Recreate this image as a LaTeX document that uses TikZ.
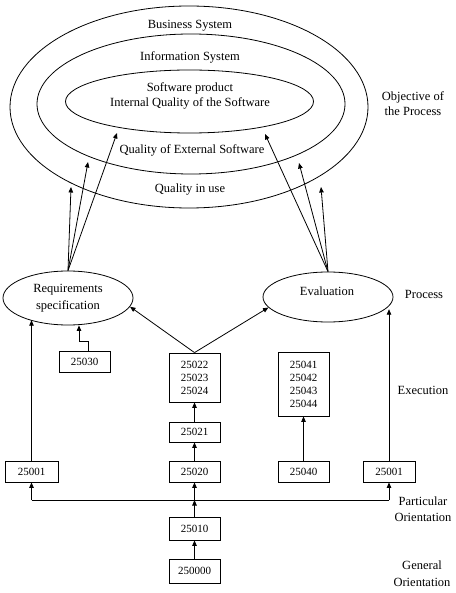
\documentclass[tikz,border=0pt]{standalone}
\usepackage{fontspec}
\setmainfont{Liberation Serif}
\usetikzlibrary{shapes.geometric,arrows.meta}
\newcommand\lblfont{\fontsize{12.5}{15}\selectfont}
\newcommand\numfont{\fontsize{11}{13}\selectfont}
\tikzset{
  box/.style={draw, line width=0.8pt, inner sep=0pt, minimum width=51pt, minimum height=21pt, align=center, font=\numfont},
  lbl/.style={align=center, font=\lblfont, inner sep=0pt},
  arr/.style={line width=0.8pt, -{Triangle[length=5.5pt,width=4.5pt]}},
  ell/.style={draw, ellipse, line width=0.8pt, inner sep=0pt, align=center, font=\lblfont},
  ring/.style={line width=0.8pt}
}
\begin{document}
\begin{tikzpicture}[x=1pt,y=-1pt]
\useasboundingbox (0,0) rectangle (455,593);
% rings
\draw[ring] (189,107) ellipse [x radius=179, y radius=101];
\draw[ring] (191,104) ellipse [x radius=154, y radius=70];
\draw[ring] (189.5,101.5) ellipse [x radius=124, y radius=31.5];
\node[lbl] (bs) at (190,26) {Business System};
\node[lbl] (is) at (190,57) {Information System};
\node[lbl] (sp) at (190,96) {Software product\\Internal Quality of the Software};
\node[lbl] (qe) at (192,150) {Quality of External Software};
\node[lbl] (qu) at (190,190) {Quality in use};
% side labels
\node[lbl] (obj) at (413,104) {Objective of\\the Process};
\node[lbl] (proc) at (424,294) {Process};
\node[lbl] (exe) at (423,390) {Execution};
\node[lbl, font=\fontsize{12.5}{16}\selectfont] (po) at (423,509) {Particular\\Orientation};
\node[lbl, font=\fontsize{12.5}{17}\selectfont] (go) at (422,574) {General\\Orientation};
% process ellipses
\node[ell, minimum width=130pt, minimum height=54pt, font=\fontsize{12.5}{17}\selectfont] (req) at (68,298) {Requirements\\specification};
\node[ell, minimum width=130pt, minimum height=50pt] (ev) at (328,297) {};
\node[lbl] (evt) at (327,291) {Evaluation};
% boxes
\node[box] (c30) at (84.5,362) {25030};
\node[box, minimum height=49pt] (c22) at (194.5,377.5) {25022\\25023\\25024};
\node[box, minimum height=64pt] (c41) at (303.5,384) {25041\\25042\\25043\\25044};
\node[box, minimum height=20pt] (c21) at (194.5,432) {25021};
\node[box, minimum width=53pt] (l1) at (31.5,471.5) {25001};
\node[box] (c20) at (194.5,471.5) {25020};
\node[box] (c40) at (303.5,471.5) {25040};
\node[box, minimum width=52pt] (r1) at (389,471.5) {25001};
\node[box, minimum height=23pt] (c10) at (194.5,528.5) {25010};
\node[box, minimum height=24pt] (c00) at (194.5,571) {250000};
% tips into rings
\coordinate (la) at (71,187);
\coordinate (lb) at (88,162);
\coordinate (lc) at (117,133);
\coordinate (ra) at (265,134);
\coordinate (rb) at (299,163);
\coordinate (rc) at (321,187);
\draw[arr] (req.north) -- (la);
\draw[arr] (req.north) -- (lb);
\draw[arr] (req.north) -- (lc);
\draw[arr] (ev.north) -- (ra);
\draw[arr] (ev.north) -- (rb);
\draw[arr] (ev.north) -- (rc);
% execution to process
\draw[arr] (c22.north) -- (req.-8);
\draw[arr] (c22.north) -- (ev.190);
\draw[arr] ([xshift=3.5pt]c30.north) -- ++(0,-10) -| ([xshift=11pt]req.south);
\draw[arr] (l1.north) -- (l1.north |- req.-150);
\draw[arr] (r1.north) -- (r1.north |- ev.-12);
\draw[arr] (c21.north) -- (c22.south);
\draw[arr] (c20.north) -- (c21.south);
\draw[arr] (c40.north) -- (c41.south);
% orientation
\coordinate (hl) at (194.5,500);
\draw[line width=0.8pt] (l1.south |- hl) -- (r1.south |- hl);
\draw[arr] (l1.south |- hl) -- (l1.south);
\draw[arr] (hl) -- (c20.south);
\draw[arr] (r1.south |- hl) -- (r1.south);
\draw[arr] (c10.north) -- (hl);
\draw[arr] (c00.north) -- (c10.south);
\end{tikzpicture}
\end{document}
